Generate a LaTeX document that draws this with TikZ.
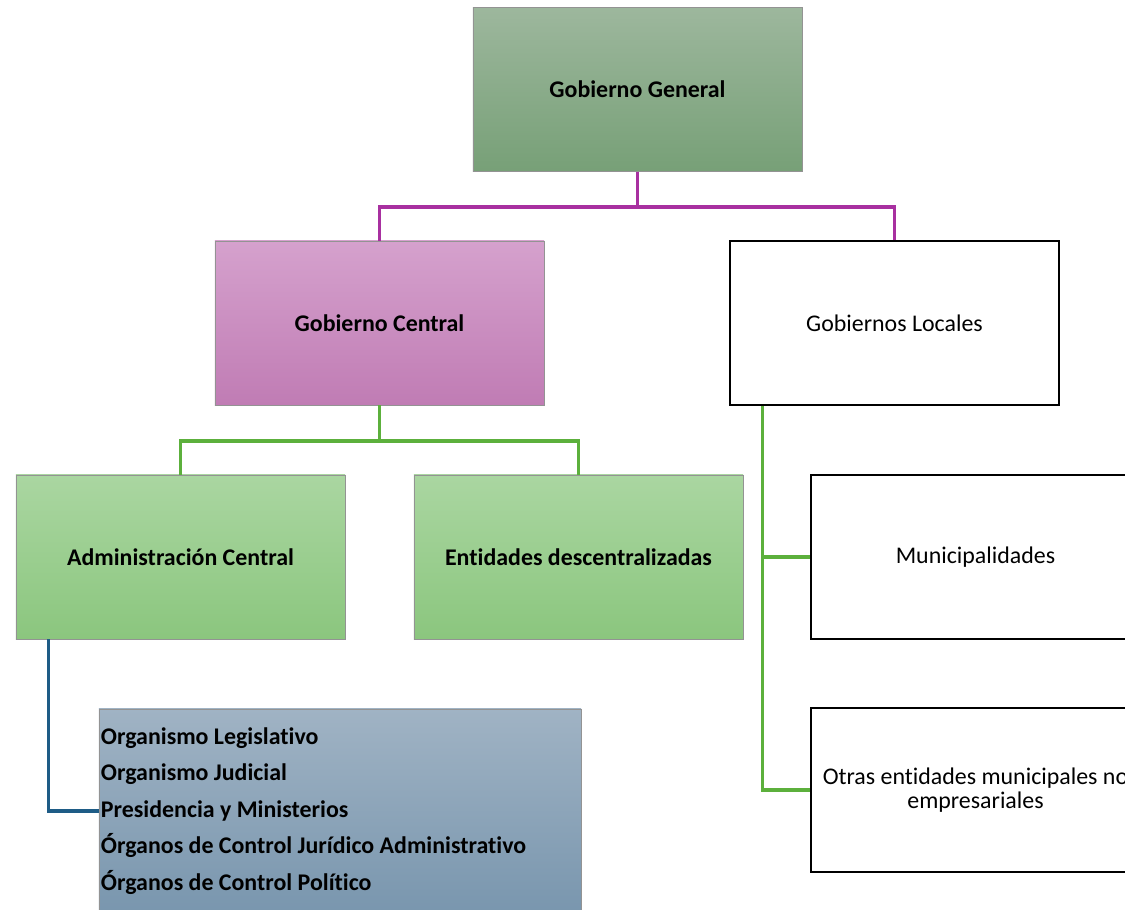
\documentclass[tikz,border=0pt]{standalone}
\usepackage{fontspec}
\setmainfont{Carlito}[Ligatures=NoCommon]
\usetikzlibrary{positioning}

\definecolor{ggtop}{RGB}{157,183,157}
\definecolor{ggbot}{RGB}{119,160,119}
\definecolor{gctop}{RGB}{213,161,205}
\definecolor{gcbot}{RGB}{192,124,180}
\definecolor{gntop}{RGB}{170,214,161}
\definecolor{gnbot}{RGB}{139,198,126}
\definecolor{bltop}{RGB}{160,179,196}
\definecolor{blbot}{RGB}{121,150,174}
\definecolor{purpleline}{RGB}{168,48,160}
\definecolor{greenline}{RGB}{92,176,60}
\definecolor{blueline}{RGB}{30,92,134}

\tikzset{
  box/.style={rectangle, minimum width=8.225cm, minimum height=4.1cm, inner sep=0pt,
    font=\fontsize{17}{17.5}\selectfont, align=center},
  shadebox/.style={box, draw=gray!85, line width=0.6pt, font=\bfseries\fontsize{17}{17.5}\selectfont},
  plainbox/.style={box, draw=black, line width=1.5pt, fill=white},
  pline/.style={purpleline, line width=2.2pt},
  gline/.style={greenline, line width=2.2pt},
  bline/.style={blueline, line width=2.2pt}
}

\begin{document}
\begin{tikzpicture}[x=0.025cm, y=-0.025cm]

	\useasboundingbox (0,0) rectangle (1125,909);
	\clip (0,0) rectangle (1125,909);

	% Top level
	\node[shadebox, top color=ggtop, bottom color=ggbot] (gg) at (637.5,89.5) {Gobierno General};

	% Second level
	\node[shadebox, top color=gctop, bottom color=gcbot] (gc) at (379.5,323) {Gobierno Central};
	\node[plainbox] (gl) at (894.5,323) {Gobiernos Locales};

	% Third level
	\node[shadebox, top color=gntop, bottom color=gnbot] (ac) at (180.5,557) {Administración Central};
	\node[shadebox, top color=gntop, bottom color=gnbot] (ed) at (578.5,557) {Entidades descentralizadas};
	\node[plainbox] (mun) at (975.5,557) {Municipalidades};
	\node[plainbox] (otras) at (975.5,790) {Otras entidades municipales no\\empresariales};

	% List of organisms
	\node[shadebox, top color=bltop, bottom color=blbot, minimum width=12.05cm, minimum height=5.1cm,
		text width=11.95cm, align=flush left, font=\bfseries\fontsize{17}{25.9}\selectfont] (list) at (340,811)
		{Organismo Legislativo\\Organismo Judicial\\Presidencia y Ministerios\\Órganos de Control Jurídico Administrativo\\Órganos de Control Político};

	% Connectors
	\coordinate (topjoin) at (637.5,207);
	\draw[pline] (gg.south) -- (topjoin);
	\draw[pline] (gc.north) |- (topjoin) -| (gl.north);

	\coordinate (midjoin) at (379.5,441);
	\draw[gline] (gc.south) -- (midjoin);
	\draw[gline] (ac.north) |- (midjoin) -| (ed.north);

	\coordinate (locjoin) at ([xshift=0.85cm]gl.south west);
	\draw[gline] (locjoin) |- (otras.west);
	\draw[gline] (locjoin |- mun.west) -- (mun.west);

	\draw[bline] ([xshift=0.825cm]ac.south west) |- (list.west);

\end{tikzpicture}
\end{document}
